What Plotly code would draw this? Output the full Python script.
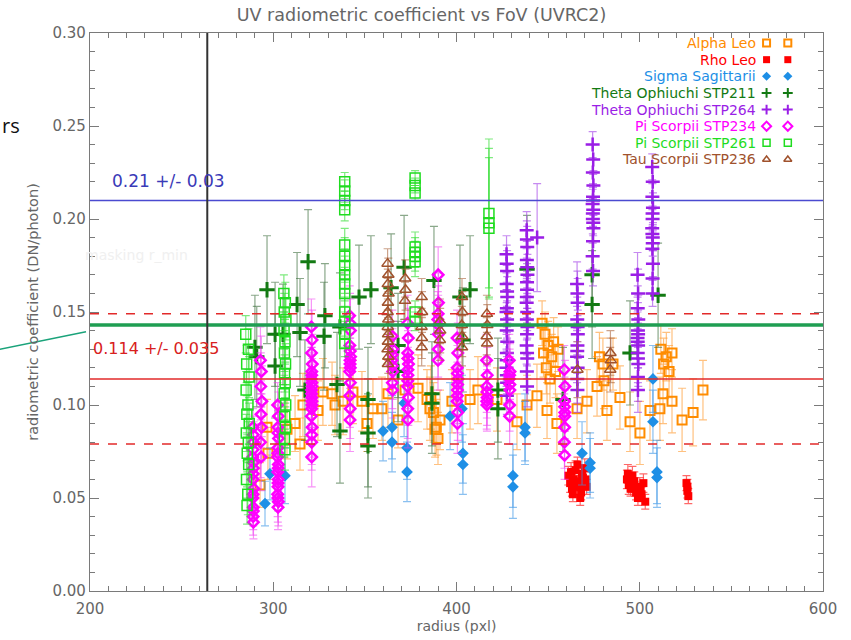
import plotly.graph_objects as go

# ---------------------------------------------------------------- labels
TITLE = "UV radiometric coefficient vs FoV (UVRC2)"
X_TITLE = "radius (pxl)"
Y_TITLE = "radiometric coefficient (DN/photon)"
X_RANGE = [200, 600]
Y_RANGE = [0.0, 0.30]

# reference levels
MEAN_ALL, SPREAD_ALL = 0.114, 0.035
MEAN_HI, SPREAD_HI = 0.21, 0.03
REF_LEVEL = 0.143
R_MIN = 264

# ---------------------------------------------------------------- data
# each entry: (radius [pxl], coefficient [DN/photon], 1-sigma error)
ALPHA_LEO = [
    (292.8, 0.057, 0.012), (296.6, 0.088, 0.015), (297.1, 0.074, 0.014), (307.5, 0.087, 0.016),
    (311.9, 0.090, 0.015), (314.6, 0.079, 0.014), (316.2, 0.100, 0.017), (324.4, 0.097, 0.016),
    (327.1, 0.107, 0.018), (332.1, 0.106, 0.017), (333.7, 0.100, 0.016), (338.1, 0.102, 0.018),
    (343.5, 0.107, 0.017), (348.4, 0.102, 0.016), (351.2, 0.090, 0.015), (354.4, 0.098, 0.016),
    (359.3, 0.098, 0.017), (362.6, 0.106, 0.018), (368.1, 0.092, 0.015), (371.9, 0.108, 0.017),
    (379.0, 0.109, 0.018), (383.9, 0.103, 0.016), (385.5, 0.098, 0.017), (388.3, 0.087, 0.015),
    (389.9, 0.082, 0.014), (391.0, 0.092, 0.016), (386.0, 0.104, 0.017), (387.5, 0.096, 0.016),
    (389.0, 0.088, 0.015), (397.5, 0.102, 0.017), (407.4, 0.103, 0.016), (411.7, 0.108, 0.018),
    (422.1, 0.103, 0.017), (433.0, 0.091, 0.015), (438.5, 0.100, 0.016), (443.9, 0.105, 0.017),
    (446.7, 0.144, 0.012), (447.5, 0.128, 0.013), (448.3, 0.138, 0.012), (449.0, 0.120, 0.014),
    (450.0, 0.132, 0.013), (451.0, 0.114, 0.013), (452.0, 0.126, 0.012), (453.0, 0.134, 0.013),
    (454.0, 0.118, 0.014), (455.4, 0.130, 0.012), (449.4, 0.097, 0.015), (454.8, 0.090, 0.016),
    (465.8, 0.098, 0.016), (471.2, 0.102, 0.017), (476.7, 0.110, 0.016), (479.9, 0.122, 0.014),
    (478.0, 0.126, 0.013), (480.5, 0.113, 0.015), (482.1, 0.097, 0.016), (485.4, 0.122, 0.014),
    (489.2, 0.104, 0.017), (494.7, 0.091, 0.016), (500.1, 0.085, 0.017), (505.6, 0.097, 0.016),
    (511.0, 0.098, 0.017), (511.5, 0.130, 0.013), (513.0, 0.122, 0.014), (514.5, 0.126, 0.013),
    (516.0, 0.118, 0.014), (517.6, 0.128, 0.013), (512.7, 0.106, 0.016), (517.6, 0.102, 0.017),
    (523.1, 0.092, 0.017), (529.1, 0.096, 0.018), (534.5, 0.108, 0.016),
]

RHO_LEO = [
    (461.0, 0.062, 0.005), (462.0, 0.058, 0.005), (463.0, 0.055, 0.004), (464.0, 0.060, 0.005),
    (465.0, 0.065, 0.005), (466.0, 0.068, 0.004), (467.0, 0.057, 0.005), (468.0, 0.053, 0.004),
    (469.0, 0.061, 0.005), (470.0, 0.066, 0.005), (471.0, 0.056, 0.004), (463.5, 0.052, 0.004),
    (466.5, 0.059, 0.005), (462.5, 0.064, 0.005), (468.5, 0.063, 0.005), (470.5, 0.060, 0.004),
    (464.5, 0.056, 0.004), (467.5, 0.050, 0.004),
    (493.0, 0.060, 0.005), (494.0, 0.057, 0.005), (495.0, 0.055, 0.004), (496.0, 0.062, 0.005),
    (497.0, 0.059, 0.005), (498.0, 0.053, 0.004), (499.0, 0.050, 0.004), (500.0, 0.056, 0.005),
    (501.0, 0.052, 0.004), (502.0, 0.058, 0.005), (503.0, 0.048, 0.004), (493.5, 0.063, 0.005),
    (495.5, 0.058, 0.005), (497.5, 0.055, 0.004), (500.5, 0.054, 0.004),
    (525.5, 0.058, 0.004), (526.0, 0.054, 0.004), (526.5, 0.051, 0.004), (526.0, 0.056, 0.004),
]

SIGMA_SGR = [
    (295.5, 0.047, 0.012), (298.2, 0.063, 0.014), (306.4, 0.062, 0.015), (359.9, 0.086, 0.016),
    (364.8, 0.088, 0.017), (364.8, 0.080, 0.016), (371.4, 0.101, 0.018), (373.0, 0.077, 0.017),
    (373.0, 0.064, 0.016), (396.5, 0.094, 0.018), (403.0, 0.098, 0.018), (403.5, 0.074, 0.016),
    (403.5, 0.068, 0.016), (430.8, 0.062, 0.017), (430.8, 0.056, 0.017), (437.4, 0.088, 0.018),
    (437.4, 0.085, 0.017), (468.5, 0.074, 0.017), (472.9, 0.069, 0.016), (472.9, 0.066, 0.016),
    (507.2, 0.114, 0.018), (507.2, 0.091, 0.017), (509.4, 0.064, 0.017), (509.4, 0.061, 0.016),
]

THETA_OPH_211 = [
    (290.0, 0.131, 0.028), (291.0, 0.126, 0.027), (296.6, 0.162, 0.029), (301.0, 0.138, 0.028),
    (301.0, 0.121, 0.028), (305.3, 0.138, 0.027), (313.0, 0.154, 0.028), (314.6, 0.139, 0.029),
    (319.0, 0.177, 0.028), (317.3, 0.108, 0.027), (328.2, 0.148, 0.028), (327.7, 0.137, 0.029),
    (334.8, 0.111, 0.028), (336.4, 0.142, 0.029), (336.4, 0.086, 0.028), (346.8, 0.158, 0.028),
    (353.3, 0.162, 0.029), (351.7, 0.103, 0.028), (351.7, 0.085, 0.029), (351.7, 0.078, 0.028),
    (364.3, 0.163, 0.029), (368.1, 0.132, 0.028), (368.1, 0.118, 0.027), (371.4, 0.174, 0.028),
    (387.7, 0.167, 0.029), (386.6, 0.106, 0.028), (386.6, 0.101, 0.027), (401.9, 0.158, 0.028),
    (407.4, 0.162, 0.029), (403.5, 0.135, 0.028), (422.6, 0.108, 0.028), (422.6, 0.098, 0.027),
    (438.5, 0.173, 0.029), (458.1, 0.103, 0.028), (474.0, 0.170, 0.028), (474.0, 0.154, 0.029),
    (494.7, 0.128, 0.028), (510.0, 0.159, 0.028),
]

THETA_OPH_264 = [
    (427.3, 0.181, 0.010), (427.6, 0.172, 0.011), (427.4, 0.165, 0.010), (427.7, 0.158, 0.011),
    (427.5, 0.152, 0.010), (427.3, 0.150, 0.012), (427.6, 0.146, 0.010), (427.4, 0.140, 0.011),
    (427.7, 0.134, 0.010), (427.5, 0.128, 0.011), (427.3, 0.120, 0.010), (427.6, 0.112, 0.011),
    (427.5, 0.105, 0.010), (427.4, 0.176, 0.010), (427.6, 0.161, 0.011), (427.5, 0.143, 0.010),
    (427.4, 0.124, 0.011), (427.5, 0.116, 0.010),
    (438.3, 0.194, 0.010), (438.6, 0.185, 0.011), (438.4, 0.178, 0.010), (438.7, 0.170, 0.011),
    (438.5, 0.162, 0.010), (438.3, 0.155, 0.012), (438.6, 0.150, 0.010), (438.4, 0.146, 0.011),
    (438.7, 0.142, 0.010), (438.5, 0.138, 0.011), (438.3, 0.132, 0.010), (438.6, 0.125, 0.011),
    (438.4, 0.118, 0.010), (438.5, 0.110, 0.011), (438.4, 0.189, 0.010), (438.6, 0.174, 0.011),
    (438.5, 0.166, 0.010), (438.4, 0.158, 0.011), (438.5, 0.128, 0.010),
    (444.0, 0.190, 0.029),
    (465.8, 0.165, 0.012), (466.1, 0.155, 0.013), (465.9, 0.146, 0.012), (466.2, 0.138, 0.013),
    (466.0, 0.132, 0.012), (465.8, 0.126, 0.014), (466.1, 0.120, 0.012), (465.9, 0.114, 0.013),
    (466.0, 0.108, 0.012), (466.0, 0.160, 0.012), (466.1, 0.142, 0.013), (465.9, 0.129, 0.012),
    (474.3, 0.240, 0.007), (474.6, 0.232, 0.008), (474.4, 0.225, 0.007), (474.7, 0.218, 0.008),
    (474.5, 0.212, 0.007), (474.3, 0.208, 0.008), (474.6, 0.205, 0.007), (474.4, 0.200, 0.008),
    (474.7, 0.195, 0.007), (474.5, 0.188, 0.008), (474.3, 0.180, 0.007), (474.5, 0.172, 0.008),
    (474.5, 0.210, 0.007), (474.4, 0.203, 0.008), (474.6, 0.198, 0.007),
    (498.8, 0.170, 0.012), (499.1, 0.160, 0.013), (498.9, 0.152, 0.012), (499.2, 0.146, 0.013),
    (499.0, 0.140, 0.012), (498.8, 0.136, 0.014), (499.1, 0.132, 0.012), (498.9, 0.128, 0.013),
    (499.2, 0.122, 0.012), (499.0, 0.115, 0.013), (499.0, 0.108, 0.012), (499.0, 0.143, 0.012),
    (499.1, 0.138, 0.013), (498.9, 0.134, 0.012), (499.0, 0.125, 0.013),
    (506.8, 0.228, 0.007), (507.1, 0.220, 0.008), (506.9, 0.212, 0.007), (507.2, 0.206, 0.008),
    (507.0, 0.200, 0.007), (506.8, 0.195, 0.008), (507.1, 0.190, 0.007), (506.9, 0.184, 0.008),
    (507.2, 0.176, 0.007), (507.0, 0.168, 0.008), (507.0, 0.160, 0.007), (507.0, 0.203, 0.007),
    (506.9, 0.192, 0.008), (507.1, 0.187, 0.007),
]

PI_SCO_234 = [
    (289.0, 0.088, 0.010), (289.3, 0.080, 0.011), (288.8, 0.072, 0.010), (289.2, 0.066, 0.011),
    (289.0, 0.060, 0.010), (289.4, 0.055, 0.011), (288.9, 0.050, 0.010), (289.1, 0.045, 0.010),
    (289.0, 0.040, 0.010), (289.2, 0.037, 0.009), (289.1, 0.084, 0.010), (289.0, 0.076, 0.011),
    (289.2, 0.069, 0.010), (289.1, 0.063, 0.010), (289.0, 0.052, 0.010), (289.1, 0.043, 0.010),
    (293.0, 0.124, 0.018), (293.5, 0.118, 0.019), (293.2, 0.110, 0.018), (293.8, 0.102, 0.019),
    (293.3, 0.095, 0.018), (293.6, 0.088, 0.018), (293.1, 0.080, 0.019), (293.4, 0.072, 0.018),
    (302.4, 0.100, 0.012), (302.8, 0.094, 0.013), (302.5, 0.088, 0.012), (302.9, 0.082, 0.013),
    (302.6, 0.077, 0.012), (302.4, 0.072, 0.014), (302.8, 0.068, 0.012), (302.5, 0.064, 0.013),
    (302.7, 0.060, 0.012), (302.6, 0.056, 0.013), (302.4, 0.052, 0.012), (302.8, 0.048, 0.013),
    (302.6, 0.045, 0.012), (302.6, 0.085, 0.012), (302.5, 0.074, 0.013), (302.7, 0.066, 0.012),
    (302.6, 0.058, 0.012), (302.5, 0.050, 0.013),
    (320.8, 0.142, 0.015), (321.2, 0.135, 0.016), (320.9, 0.128, 0.015), (321.3, 0.122, 0.016),
    (321.0, 0.118, 0.015), (320.8, 0.114, 0.017), (321.2, 0.110, 0.015), (320.9, 0.106, 0.016),
    (321.1, 0.102, 0.015), (321.0, 0.098, 0.016), (320.8, 0.094, 0.015), (321.2, 0.088, 0.016),
    (321.0, 0.080, 0.015), (321.0, 0.072, 0.016), (321.0, 0.116, 0.015), (321.1, 0.112, 0.016),
    (320.9, 0.108, 0.015), (321.0, 0.104, 0.016), (321.1, 0.100, 0.015), (321.0, 0.084, 0.016),
    (341.7, 0.148, 0.016), (342.1, 0.140, 0.017), (341.8, 0.132, 0.016), (342.2, 0.126, 0.017),
    (341.9, 0.122, 0.016), (341.7, 0.118, 0.018), (342.1, 0.112, 0.016), (341.8, 0.105, 0.017),
    (342.0, 0.098, 0.016), (341.9, 0.092, 0.017), (342.0, 0.129, 0.016), (341.9, 0.124, 0.017),
    (342.0, 0.120, 0.016), (341.9, 0.144, 0.016),
    (365.0, 0.137, 0.014), (365.3, 0.130, 0.015), (364.8, 0.124, 0.014), (365.2, 0.118, 0.015),
    (365.0, 0.112, 0.014), (365.1, 0.108, 0.015), (365.0, 0.127, 0.014), (365.1, 0.121, 0.015),
    (373.3, 0.144, 0.015), (373.7, 0.136, 0.016), (373.4, 0.128, 0.015), (373.8, 0.122, 0.016),
    (373.5, 0.116, 0.015), (373.3, 0.110, 0.017), (373.7, 0.104, 0.015), (373.4, 0.098, 0.016),
    (373.5, 0.092, 0.015), (373.5, 0.125, 0.015), (373.5, 0.119, 0.016), (373.4, 0.113, 0.015),
    (390.0, 0.170, 0.015), (390.2, 0.155, 0.016), (389.8, 0.146, 0.015), (390.1, 0.138, 0.016),
    (390.0, 0.130, 0.015), (389.9, 0.124, 0.016), (390.0, 0.149, 0.015), (390.0, 0.143, 0.016),
    (400.3, 0.136, 0.015), (400.7, 0.128, 0.016), (400.4, 0.120, 0.015), (400.8, 0.114, 0.016),
    (400.5, 0.108, 0.015), (400.3, 0.102, 0.017), (400.7, 0.096, 0.015), (400.5, 0.090, 0.016),
    (400.5, 0.117, 0.015), (400.6, 0.111, 0.016), (400.5, 0.105, 0.015),
    (416.4, 0.124, 0.014), (416.8, 0.116, 0.015), (416.5, 0.110, 0.014), (416.7, 0.104, 0.015),
    (416.6, 0.100, 0.014), (416.6, 0.107, 0.014), (416.5, 0.102, 0.015),
    (428.8, 0.124, 0.014), (429.2, 0.118, 0.015), (428.9, 0.114, 0.014), (429.1, 0.108, 0.015),
    (429.0, 0.100, 0.014), (429.0, 0.094, 0.015), (429.0, 0.116, 0.014), (429.1, 0.111, 0.015),
    (458.8, 0.119, 0.013), (459.2, 0.110, 0.014), (458.9, 0.102, 0.013), (459.1, 0.096, 0.014),
    (459.0, 0.088, 0.013), (458.9, 0.080, 0.014), (459.0, 0.073, 0.013), (459.0, 0.099, 0.013),
    (459.1, 0.094, 0.014),
]

PI_SCO_261 = [
    (285.0, 0.138, 0.010), (286.5, 0.130, 0.011), (285.5, 0.122, 0.010), (286.8, 0.115, 0.011),
    (285.2, 0.108, 0.010), (286.2, 0.100, 0.012), (285.6, 0.095, 0.010), (286.9, 0.090, 0.011),
    (285.3, 0.085, 0.010), (286.4, 0.080, 0.011), (285.8, 0.074, 0.010), (286.6, 0.068, 0.011),
    (285.4, 0.060, 0.010), (286.1, 0.052, 0.011), (285.7, 0.046, 0.010),
    (305.8, 0.160, 0.010), (306.6, 0.155, 0.011), (306.0, 0.150, 0.010), (306.9, 0.146, 0.011),
    (305.9, 0.140, 0.010), (306.4, 0.134, 0.012), (306.1, 0.128, 0.010), (306.7, 0.122, 0.011),
    (306.2, 0.117, 0.010), (306.5, 0.112, 0.011), (306.0, 0.106, 0.010), (306.8, 0.100, 0.011),
    (306.3, 0.094, 0.010), (306.6, 0.088, 0.011), (306.1, 0.082, 0.010), (306.4, 0.076, 0.011),
    (339.0, 0.220, 0.005), (339.0, 0.215, 0.006), (339.0, 0.210, 0.005), (339.0, 0.205, 0.006),
    (339.0, 0.186, 0.009), (339.0, 0.180, 0.010), (339.0, 0.175, 0.009), (339.0, 0.170, 0.010),
    (339.0, 0.165, 0.009), (339.0, 0.160, 0.010), (339.0, 0.150, 0.008), (339.0, 0.145, 0.008),
    (339.0, 0.138, 0.007), (339.0, 0.133, 0.007),
    (377.4, 0.222, 0.004), (377.4, 0.218, 0.004), (377.4, 0.214, 0.004), (377.4, 0.185, 0.008),
    (377.4, 0.182, 0.008), (377.4, 0.180, 0.008), (377.4, 0.177, 0.008), (377.4, 0.150, 0.006),
    (377.4, 0.145, 0.005),
    (417.7, 0.203, 0.040), (417.7, 0.198, 0.040), (417.7, 0.195, 0.038),
]

TAU_SCO = [
    (362.4, 0.176, 0.008), (362.8, 0.170, 0.009), (362.5, 0.165, 0.008), (362.9, 0.160, 0.009),
    (362.6, 0.155, 0.008), (362.4, 0.150, 0.010), (362.8, 0.146, 0.008), (362.5, 0.142, 0.009),
    (362.7, 0.138, 0.008), (362.6, 0.134, 0.009), (362.4, 0.130, 0.008), (362.8, 0.126, 0.009),
    (362.6, 0.122, 0.008),
    (372.0, 0.168, 0.010), (372.2, 0.162, 0.011), (371.9, 0.156, 0.010),
    (381.0, 0.158, 0.010), (381.2, 0.150, 0.011), (380.9, 0.142, 0.010), (381.1, 0.136, 0.011),
    (381.0, 0.131, 0.010),
    (391.0, 0.145, 0.012), (391.1, 0.140, 0.012), (390.9, 0.135, 0.011),
    (403.0, 0.158, 0.010), (403.2, 0.150, 0.011), (402.9, 0.143, 0.010), (403.1, 0.137, 0.011),
    (403.0, 0.131, 0.010),
    (416.6, 0.149, 0.010), (416.8, 0.143, 0.011), (416.5, 0.137, 0.010), (416.7, 0.133, 0.011),
    (466.0, 0.119, 0.015),
    (484.0, 0.128, 0.012), (484.2, 0.124, 0.012), (483.9, 0.119, 0.012),
]

# name, data, marker colour, error-bar colour, symbol, size, outline width
SERIES = [
    ("Alpha Leo", ALPHA_LEO, "#ff8c00", "rgba(255,160,60,0.65)", "square-open", 9, 2),
    ("Rho Leo", RHO_LEO, "#ff0000", "rgba(255,40,40,0.7)", "square", 8, 0),
    ("Sigma Sagittarii", SIGMA_SGR, "#1e8fe6", "rgba(60,150,230,0.6)", "diamond", 9, 0),
    ("Theta Ophiuchi STP211", THETA_OPH_211, "#137a13", "rgba(60,110,60,0.6)", "cross-thin-open", 11, 3),
    ("Theta Ophiuchi STP264", THETA_OPH_264, "#9a1ee6", "rgba(160,60,230,0.6)", "cross-thin-open", 10, 2.5),
    ("Pi Scorpii STP234", PI_SCO_234, "#ff00ff", "rgba(240,60,240,0.55)", "diamond-open", 8, 2.5),
    ("Pi Scorpii STP261", PI_SCO_261, "#1fdc1f", "rgba(40,220,40,0.6)", "square-open", 10, 1.5),
    ("Tau Scorpii STP236", TAU_SCO, "#a0522d", "rgba(170,100,60,0.6)", "triangle-up-open", 10, 1.5),
]

fig = go.Figure()

for name, data, color, ecolor, symbol, size, lw in SERIES:
    xs = [d[0] for d in data]
    ys = [d[1] for d in data]
    es = [d[2] for d in data]
    fig.add_trace(go.Scatter(
        x=xs, y=ys, mode="markers", name=name, showlegend=False,
        marker=dict(symbol=symbol, size=size, color=color,
                    line=dict(color=color, width=lw)),
        error_y=dict(type="data", array=es, color=ecolor, thickness=1.2, width=4),
    ))

# legend: right-aligned coloured labels with two keys each (IDL style)
LEG_TEXT_X = 0.911
LEG_KEY_X = [0.923, 0.952]
LEG_TOP = 0.982
LEG_STEP = 0.0298
for i, (name, data, color, ecolor, symbol, size, lw) in enumerate(SERIES):
    ly = LEG_TOP - i * LEG_STEP
    fig.add_annotation(text=name, x=LEG_TEXT_X, y=ly, xref="paper", yref="paper",
                       xanchor="right", yanchor="middle", showarrow=False,
                       font=dict(color=color, size=14))
    fig.add_trace(go.Scatter(
        x=LEG_KEY_X, y=[ly, ly], xaxis="x2", yaxis="y2", mode="markers",
        showlegend=False, hoverinfo="skip",
        marker=dict(symbol=symbol, size=7, color=color,
                    line=dict(color=color, width=min(lw, 2))),
    ))

# reference lines
fig.add_hline(y=MEAN_HI, line=dict(color="#4a4ad0", width=1.5), layer="above")
fig.add_hline(y=MEAN_ALL, line=dict(color="#e22a2a", width=1.5), layer="above")
fig.add_hline(y=MEAN_ALL + SPREAD_ALL, line=dict(color="#e22a2a", width=1.5, dash="dash"), layer="above")
fig.add_hline(y=MEAN_ALL - SPREAD_ALL, line=dict(color="#e22a2a", width=1.5, dash="dash"), layer="above")
fig.add_hline(y=REF_LEVEL, line=dict(color="#1f9e52", width=3.5), layer="above")
fig.add_vline(x=R_MIN, line=dict(color="#333333", width=2), layer="above")

fig.add_annotation(text=f"{MEAN_HI:.2f} +/- {SPREAD_HI:.2f}", x=211, y=0.2207,
                   xanchor="left", yanchor="middle", showarrow=False,
                   font=dict(color="#3a3ab8", size=17))
fig.add_annotation(text=f"{MEAN_ALL:.3f} +/- {SPREAD_ALL:.3f}", x=200.6, y=0.1303,
                   xanchor="left", yanchor="middle", showarrow=False,
                   font=dict(color="#d82020", size=16))
fig.add_annotation(text="masking r_min", x=(190 - 90) / 733, y=(597 - 257) / 564,
                   xref="paper", yref="paper", xanchor="right", yanchor="middle",
                   showarrow=False, font=dict(color="#f0f0f0", size=14))

# slide leftovers at the left edge
fig.add_annotation(text="rs", x=-90 / 733, y=(597 - 127) / 564, xref="paper", yref="paper",
                   xanchor="left", yanchor="middle", showarrow=False,
                   font=dict(color="#111111", size=20, family="Open Sans"))
fig.add_shape(type="line", xref="paper", yref="paper",
              x0=-92 / 733, y0=(597 - 353) / 564, x1=-4 / 733, y1=(597 - 335) / 564,
              line=dict(color="#1aa37a", width=1.5))

axis_common = dict(showline=True, linecolor="#7a7a7a", linewidth=1.2, mirror="ticks",
                   ticks="inside", ticklen=9, tickcolor="#7a7a7a", showgrid=False,
                   zeroline=False, tickfont=dict(color="#666666", size=15))

fig.update_layout(
    width=851, height=640,
    margin=dict(l=90, r=28, t=33, b=43),
    paper_bgcolor="white", plot_bgcolor="white",
    font=dict(family="DejaVu Sans", color="#666666"),
    title=dict(text=TITLE, x=421.5 / 851, xref="container", xanchor="center",
               y=1 - 15 / 640, yanchor="middle", font=dict(size=17.5, color="#666666")),
    xaxis=dict(range=X_RANGE, tickvals=[200, 300, 400, 500, 600],
               minor=dict(dtick=10, ticks="inside", ticklen=5, tickcolor="#7a7a7a"),
               ticklabelstandoff=4,
               title=dict(text=X_TITLE, standoff=0, font=dict(size=14, color="#666666")),
               **axis_common),
    yaxis=dict(range=Y_RANGE, tickvals=[0, 0.05, 0.10, 0.15, 0.20, 0.25, 0.30],
               tickformat=".2f",
               minor=dict(dtick=0.01, ticks="inside", ticklen=5, tickcolor="#7a7a7a"),
               title=dict(text=Y_TITLE, standoff=10, font=dict(size=14.5, color="#666666")),
               **axis_common),
    xaxis2=dict(overlaying="x", range=[0, 1], visible=False),
    yaxis2=dict(overlaying="y", range=[0, 1], visible=False),
    showlegend=False,
)

fig.write_html("out.html")
